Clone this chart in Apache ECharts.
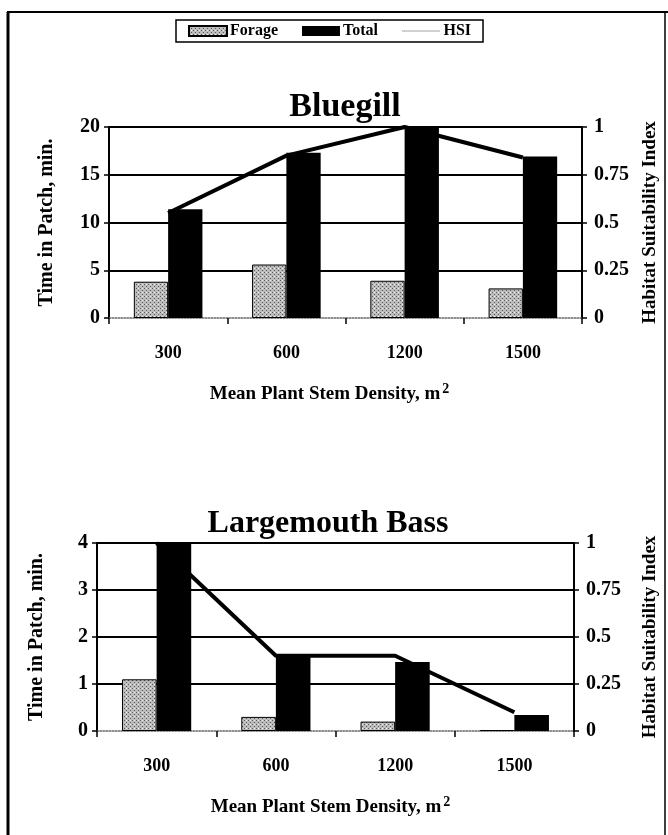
<!DOCTYPE html>
<html>
<head>
<meta charset="utf-8">
<script src="https://cdn.jsdelivr.net/npm/echarts@6/dist/echarts.min.js"></script>
<style>
  html, body { margin: 0; padding: 0; background: #fff; }
  #chart { width: 668px; height: 835px; }
</style>
</head>
<body>
<div id="chart"></div>
<script>
// stem densities (categories)
const densities = ['300', '600', '1200', '1500'];

// Bluegill
const bluegillForage = [3.8, 5.6, 3.9, 3.1];
const bluegillTotal = [11.4, 17.3, 20.0, 16.9];
const bluegillHsi = [0.55, 0.85, 1.0, 0.84];

// Largemouth Bass
const bassForage = [1.1, 0.3, 0.2, 0.02];
const bassTotal = [4.0, 1.6, 1.47, 0.34];
const bassHsi = [1.0, 0.4, 0.4, 0.1];

// axis ranges: [min, max, interval]
const bluegillTimeRange = [0, 20, 5];
const bassTimeRange = [0, 4, 1];
const hsiRange = [0, 1, 0.25];

const FONT = "'Liberation Serif', 'DejaVu Serif', serif";

// stippled grey fill like the scanned forage bars
function stipple() {
    const c = document.createElement('canvas');
    c.width = 4;
    c.height = 4;
    const ctx = c.getContext('2d');
    ctx.fillStyle = '#bcbcbc';
    ctx.fillRect(0, 0, 4, 4);
    ctx.fillStyle = '#5a5a5a';
    ctx.fillRect(0, 0, 1, 1);
    ctx.fillRect(2, 2, 1, 1);
    ctx.fillStyle = '#eeeeee';
    ctx.fillRect(2, 0, 1, 1);
    return { image: c, repeat: 'repeat' };
}
const forageFill = stipple();

const labelStyle = { color: '#000', fontFamily: FONT, fontWeight: 'bold', fontSize: 20 };

function timeAxis(gridIndex, range, gap) {
    return {
        type: 'value', gridIndex: gridIndex, position: 'left',
        min: range[0], max: range[1], interval: range[2],
        name: 'Time in Patch, min.', nameLocation: 'middle', nameRotate: 90, nameGap: gap,
        nameTextStyle: { color: '#000', fontFamily: FONT, fontWeight: 'bold', fontSize: 20 },
        axisLine: { show: true, lineStyle: { color: '#000', width: 2 } },
        axisTick: { show: true, inside: false, length: 5, lineStyle: { color: '#000', width: 1.5 } },
        axisLabel: Object.assign({ margin: 9 }, labelStyle),
        splitLine: { show: true, showMinLine: false, lineStyle: { color: '#000', width: 2 } }
    };
}

function hsiAxis(gridIndex, gap) {
    return {
        type: 'value', gridIndex: gridIndex, position: 'right',
        min: hsiRange[0], max: hsiRange[1], interval: hsiRange[2],
        name: 'Habitat Suitability Index', nameLocation: 'middle', nameRotate: 90, nameGap: gap,
        nameTextStyle: { color: '#000', fontFamily: FONT, fontWeight: 'bold', fontSize: 19 },
        axisLine: { show: true, lineStyle: { color: '#000', width: 2 } },
        axisTick: { show: true, inside: false, length: 5, lineStyle: { color: '#000', width: 1.5 } },
        axisLabel: Object.assign({ margin: 12 }, labelStyle),
        splitLine: { show: false }
    };
}

function densityAxis(gridIndex, shiftLeft) {
    return {
        type: 'category', gridIndex: gridIndex, data: densities,
        name: '{a|Mean Plant Stem Density, m}{s|2}', nameLocation: 'middle', nameGap: 64,
        nameTextStyle: {
            padding: [0, shiftLeft * 2, 0, 0],
            rich: {
                a: { color: '#000', fontFamily: FONT, fontWeight: 'bold', fontSize: 19 },
                s: { color: '#000', fontFamily: FONT, fontWeight: 'bold', fontSize: 14, padding: [0, 0, 10, 2] }
            }
        },
        axisLine: { show: true, lineStyle: { color: '#666', width: 1.5, type: 'dotted' } },
        axisTick: { show: true, inside: false, length: 6, lineStyle: { color: '#000', width: 1.5 } },
        axisLabel: Object.assign({ margin: 26 }, labelStyle, { fontSize: 18 })
    };
}

function barSeries(name, xi, yi, data, color, border) {
    return {
        name: name, type: 'bar', xAxisIndex: xi, yAxisIndex: yi, data: data,
        barGap: '0%', barCategoryGap: '42%', z: 3,
        itemStyle: { color: color, borderColor: '#000', borderWidth: border }
    };
}

function hsiSeries(xi, yi, data) {
    return {
        name: 'HSI', type: 'line', xAxisIndex: xi, yAxisIndex: yi, data: data,
        showSymbol: false, symbol: 'none', z: 2,
        lineStyle: { color: '#000', width: 4 },
        itemStyle: { color: '#000' }
    };
}

const chart = echarts.init(document.getElementById('chart'));
chart.setOption({
    backgroundColor: '#fff',
    animation: false,
    title: [
        { text: 'Bluegill', left: 340, top: 85, textAlign: 'center',
          textStyle: { fontFamily: FONT, fontWeight: 'bold', fontSize: 34, color: '#000' } },
        { text: 'Largemouth Bass', left: 323, top: 503, textAlign: 'center',
          textStyle: { fontFamily: FONT, fontWeight: 'bold', fontSize: 32, color: '#000' } }
    ],
    legend: {
        left: 176, top: 20,
        padding: [3, 12],
        itemGap: 24, itemWidth: 38, itemHeight: 10,
        borderColor: '#000', borderWidth: 1.5,
        textStyle: { fontFamily: FONT, fontWeight: 'bold', fontSize: 16, color: '#000', padding: [0, 0, 0, -2] },
        data: [
            { name: 'Forage', icon: 'rect' },
            { name: 'Total', icon: 'rect' },
            { name: 'HSI',
              itemStyle: { color: 'rgba(0,0,0,0)', borderWidth: 0 },
              lineStyle: { width: 1, color: '#444', type: 'dotted' } }
        ]
    },
    grid: [
        { left: 109, right: 86, top: 127, height: 191 },
        { left: 97, right: 93, top: 543, height: 188 }
    ],
    xAxis: [densityAxis(0, 16), densityAxis(1, 5)],
    yAxis: [
        timeAxis(0, bluegillTimeRange, 52),
        hsiAxis(0, 59),
        timeAxis(1, bassTimeRange, 50),
        hsiAxis(1, 67)
    ],
    series: [
        hsiSeries(0, 1, bluegillHsi),
        barSeries('Forage', 0, 0, bluegillForage, forageFill, 1),
        barSeries('Total', 0, 0, bluegillTotal, '#000', 0),
        hsiSeries(1, 3, bassHsi),
        barSeries('Forage', 1, 2, bassForage, forageFill, 1),
        barSeries('Total', 1, 2, bassTotal, '#000', 0)
    ],
    graphic: [
        { type: 'line', shape: { x1: 8, y1: 12, x2: 8, y2: 835 }, style: { stroke: '#000', lineWidth: 3 } },
        { type: 'line', shape: { x1: 7, y1: 12, x2: 668, y2: 12 }, style: { stroke: '#000', lineWidth: 2 } },
        { type: 'line', shape: { x1: 665, y1: 12, x2: 665, y2: 835 }, style: { stroke: '#000', lineWidth: 1.5 } }
    ]
});

window.addEventListener('resize', () => chart.resize());
</script>
</body>
</html>
